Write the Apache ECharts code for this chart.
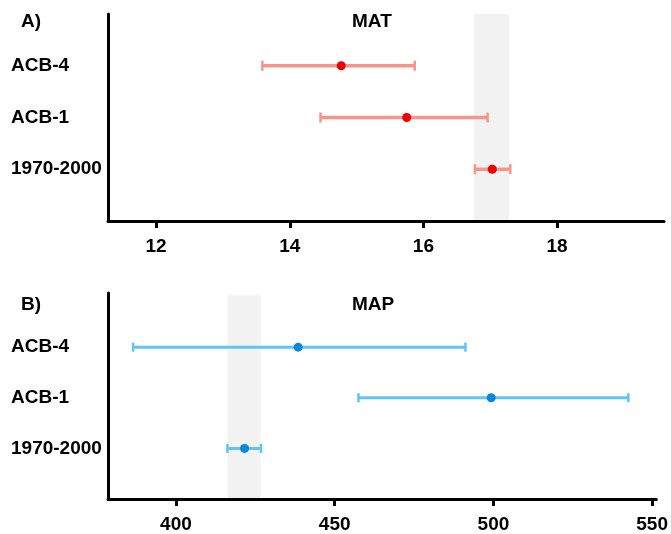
<!DOCTYPE html>
<html>
<head>
<meta charset="utf-8">
<script src="https://cdn.jsdelivr.net/npm/echarts@6/dist/echarts.min.js"></script>
<style>html,body{margin:0;padding:0;background:#fff}#c{width:671px;height:534px}</style>
</head>
<body>
<div id="c"></div>
<script>
const categories = ['1970-2000', 'ACB-1', 'ACB-4'];
const matMean = [17.03, 15.75, 14.77];
const matLow  = [16.77, 14.46, 13.59];
const matHigh = [17.30, 16.96, 15.87];
const mapMean = [421.6, 499.3, 438.5];
const mapLow  = [416.2, 457.5, 386.5];
const mapHigh = [426.8, 542.5, 491.2];
const matBand = [16.76, 17.28];
const mapBand = [416.2, 426.7];
const matTicks = [12, 14, 16, 18];
const mapTicks = [400, 450, 500, 550];

const FONT = 'Liberation Sans, Arial, sans-serif';

function errRender(capH, color, lw) {
  return function (params, api) {
    const y = api.value(0);
    const lo = api.coord([api.value(1), y]);
    const hi = api.coord([api.value(2), y]);
    const st = { stroke: color, lineWidth: lw, lineCap: 'butt' };
    return {
      type: 'group',
      children: [
        { type: 'line', shape: { x1: lo[0], y1: lo[1], x2: hi[0], y2: hi[1] }, style: st },
        { type: 'line', shape: { x1: lo[0], y1: lo[1] - capH / 2, x2: lo[0], y2: lo[1] + capH / 2 }, style: { stroke: color, lineWidth: 2.5 } },
        { type: 'line', shape: { x1: hi[0], y1: hi[1] - capH / 2, x2: hi[0], y2: hi[1] + capH / 2 }, style: { stroke: color, lineWidth: 2.5 } }
      ]
    };
  };
}

function xAxisCfg(idx, min, max, ticks) {
  return {
    type: 'value', gridIndex: idx, min: min, max: max, z: 5,
    axisLine: { show: true, lineStyle: { color: '#000', width: 3 } },
    axisTick: { show: true, inside: false, length: 7, lineStyle: { color: '#000', width: 3 }, customValues: ticks },
    axisLabel: { show: true, customValues: ticks, margin: 16, fontSize: 19, fontWeight: 'bold', color: '#000', fontFamily: FONT },
    splitLine: { show: false }
  };
}
function yAxisCfg(idx, max) {
  return {
    type: 'value', gridIndex: idx, min: 0, max: max, z: 5,
    axisLine: { show: true, onZero: false, lineStyle: { color: '#000', width: 3 } },
    axisTick: { show: false },
    splitLine: { show: false },
    axisLabel: {
      show: true, customValues: [1, 2, 3], align: 'left', margin: 97,
      padding: [5, 0, 0, 0],
      fontSize: 19, fontWeight: 'bold', color: '#000', fontFamily: FONT,
      formatter: function (v) { return categories[Math.round(v) - 1] || ''; }
    }
  };
}

const chart = echarts.init(document.getElementById('c'), null, { renderer: 'canvas' });
chart.setOption({
  animation: false,
  backgroundColor: '#fff',
  grid: [
    { left: 108, right: 7, top: 14, height: 207 },
    { left: 108, right: 10, top: 293, height: 210 }
  ],
  xAxis: [xAxisCfg(0, 11.28, 19.6, matTicks), xAxisCfg(1, 378.6, 551.3, mapTicks)],
  yAxis: [yAxisCfg(0, 4), yAxisCfg(1, 4.07)],
  graphic: [
    { type: 'text', left: 21, top: 12, style: { text: 'A)', fontSize: 19, fontWeight: 'bold', fill: '#000', fontFamily: FONT } },
    { type: 'text', left: 352, top: 12, style: { text: 'MAT', fontSize: 19, fontWeight: 'bold', fill: '#000', fontFamily: FONT } },
    { type: 'text', left: 21, top: 295, style: { text: 'B)', fontSize: 19, fontWeight: 'bold', fill: '#000', fontFamily: FONT } },
    { type: 'text', left: 352, top: 295, style: { text: 'MAP', fontSize: 19, fontWeight: 'bold', fill: '#000', fontFamily: FONT } }
  ],
  series: [
    {
      type: 'scatter', xAxisIndex: 0, yAxisIndex: 0, data: [], z: 0, silent: true,
      markArea: { silent: true, itemStyle: { color: '#f2f2f2' }, data: [[{ xAxis: matBand[0] }, { xAxis: matBand[1] }]] }
    },
    {
      type: 'scatter', xAxisIndex: 1, yAxisIndex: 1, data: [], z: 0, silent: true,
      markArea: { silent: true, itemStyle: { color: '#f2f2f2' }, data: [[{ xAxis: mapBand[0], yAxis: 0 }, { xAxis: mapBand[1], yAxis: 4.02 }]] }
    },
    {
      type: 'custom', xAxisIndex: 0, yAxisIndex: 0, z: 2,
      renderItem: errRender(10, '#f7958c', 3.5),
      encode: { x: [1, 2], y: 0 },
      data: categories.map((c, i) => [i + 1, matLow[i], matHigh[i]])
    },
    {
      type: 'scatter', xAxisIndex: 0, yAxisIndex: 0, z: 3,
      symbolSize: 9, itemStyle: { color: '#f00000', opacity: 1 },
      data: categories.map((c, i) => [matMean[i], i + 1])
    },
    {
      type: 'custom', xAxisIndex: 1, yAxisIndex: 1, z: 2,
      renderItem: errRender(9, '#5ec5f6', 3),
      encode: { x: [1, 2], y: 0 },
      data: categories.map((c, i) => [i + 1, mapLow[i], mapHigh[i]])
    },
    {
      type: 'scatter', xAxisIndex: 1, yAxisIndex: 1, z: 3,
      symbolSize: 9, itemStyle: { color: '#0a87d8', opacity: 1 },
      data: categories.map((c, i) => [mapMean[i], i + 1])
    }
  ]
});
</script>
</body>
</html>
